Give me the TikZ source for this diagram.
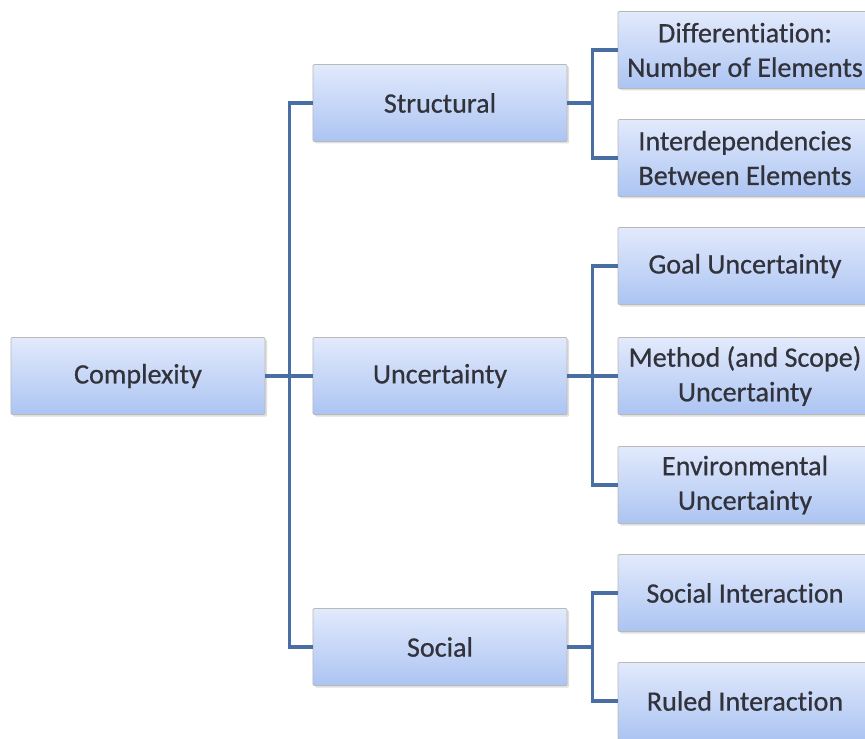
\documentclass[tikz,border=0pt]{standalone}
\usepackage{fontspec}
\newfontfamily\boxfont[Ligatures=NoCommon, FakeBold=0.6]{Carlito}
\usetikzlibrary{shadows}

\definecolor{boxtop}{RGB}{226,234,252}
\definecolor{boxbot}{RGB}{172,196,242}
\definecolor{linkblue}{RGB}{72,110,164}
\definecolor{boxtext}{RGB}{50,50,58}

\tikzset{
  box/.style={draw=gray!55, line width=0.6pt, rounded corners=1pt,
    top color=boxtop, bottom color=boxbot,
    minimum width=7.62cm, minimum height=2.31cm, align=center,
    text=boxtext, font=\boxfont\fontsize{24}{29.5}\selectfont,
    drop shadow={opacity=0.25, shadow xshift=0.6mm, shadow yshift=-0.6mm}},
  link/.style={draw=linkblue, line width=2.6pt}
}

\begin{document}
\begin{tikzpicture}[x=0.03cm, y=-0.03cm]
\useasboundingbox (0,0) rectangle (865,739);
\clip (0,0) rectangle (865,739);

% Root and the three kinds
\node[box] (cplx) at (138,376) {Complexity};
\node[box] (struct) at (440,103) {Structural};
\node[box] (unc) at (440,376) {Uncertainty};
\node[box] (soc) at (440,647) {Social};

% Leaves
\foreach \n/\y/\t in {diff/50/{Differentiation:\\Number of Elements},
    inter/158/{Interdependencies\\Between Elements},
    goal/266/{Goal Uncertainty},
    meth/376/{Method (and Scope)\\Uncertainty},
    env/485/{Environmental\\Uncertainty},
    sint/593/{Social Interaction},
    rint/701/{Ruled Interaction}}
    \node[box] (\n) at (745,\y) {\t};

% Connectors
\foreach \c in {struct, unc, soc}
    \draw[link] (cplx.east) -- ++(24,0) |- (\c.west);
\foreach \p/\c in {struct/diff, struct/inter, unc/goal, unc/meth, unc/env, soc/sint, soc/rint}
    \draw[link] (\p.east) -- ++(25,0) |- (\c.west);
\end{tikzpicture}
\end{document}
